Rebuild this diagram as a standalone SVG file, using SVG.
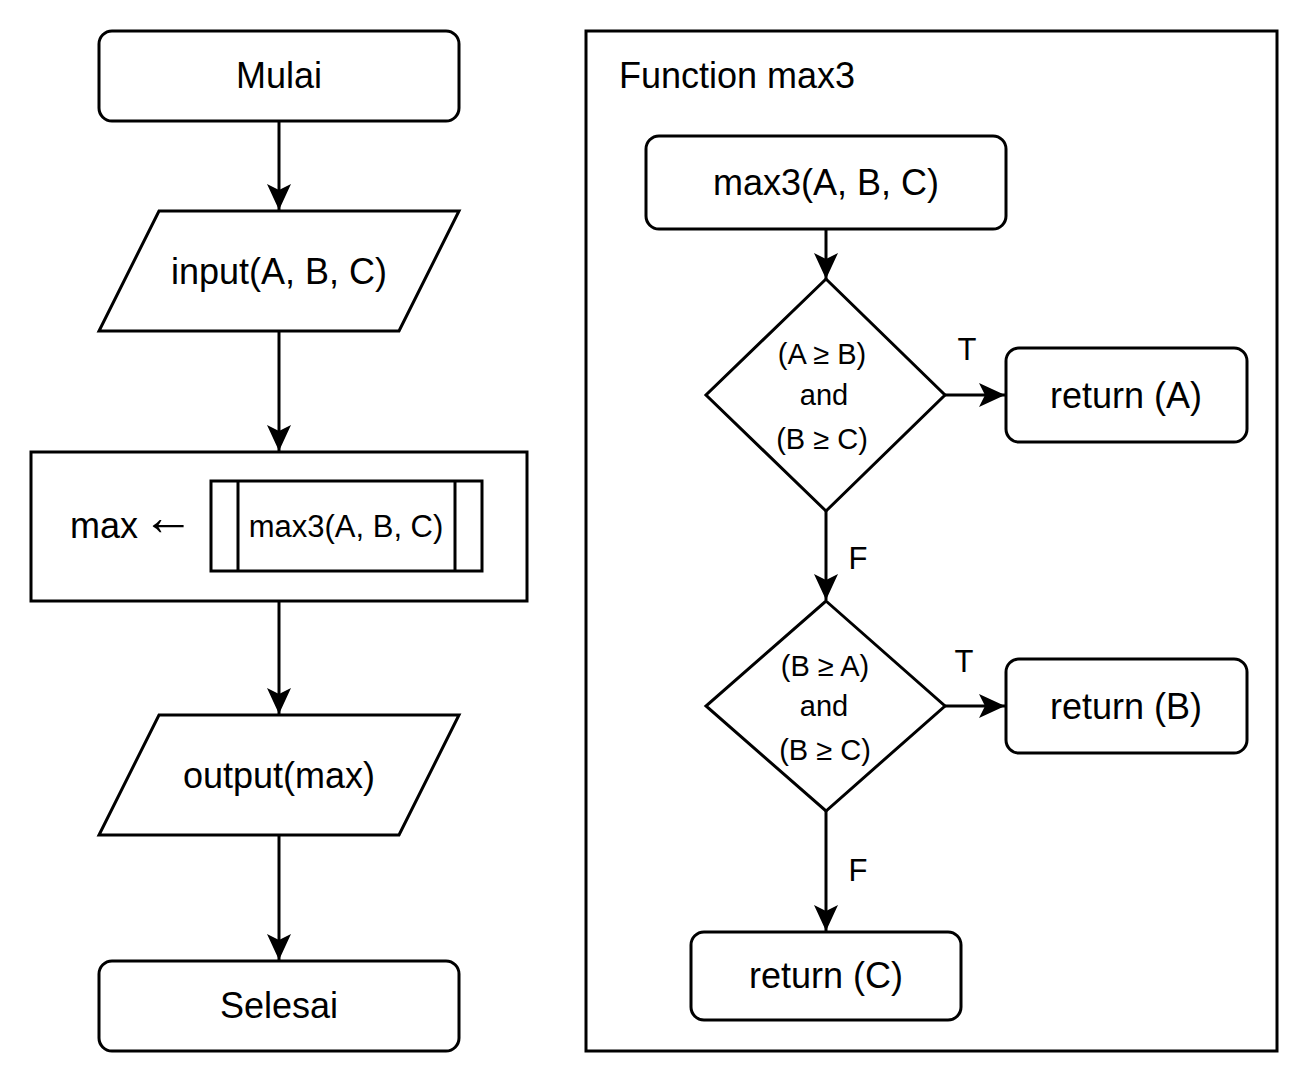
<svg xmlns="http://www.w3.org/2000/svg" width="1308" height="1083" viewBox="0 0 1308 1083">
<style>
.s{fill:#fff;stroke:#000;stroke-width:3}
.c{fill:none;stroke:#000;stroke-width:3}
.t{font-family:"Liberation Sans",Arial,sans-serif;fill:#000;text-anchor:middle}
.m{font-size:36px}
.d{font-size:29px}
.l{font-size:31px}
</style>
<defs>
<marker id="ah" markerUnits="userSpaceOnUse" markerWidth="32" markerHeight="32" viewBox="-28 -15 32 30" refX="0" refY="0" orient="auto">
<path d="M0,0 L-26,-12 L-20,0 L-26,12 Z" fill="#000"/>
</marker>
</defs>
<rect width="1308" height="1083" fill="#fff"/>
<g id="connectors">
<path class="c" d="M279,121 V210" marker-end="url(#ah)"/>
<path class="c" d="M279,331 V451" marker-end="url(#ah)"/>
<path class="c" d="M279,601 V714" marker-end="url(#ah)"/>
<path class="c" d="M279,835 V960" marker-end="url(#ah)"/>
<path class="c" d="M826,229 V279" marker-end="url(#ah)"/>
<path class="c" d="M945,395 H1005" marker-end="url(#ah)"/>
<path class="c" d="M826,511 V600" marker-end="url(#ah)"/>
<path class="c" d="M945,706 H1005" marker-end="url(#ah)"/>
<path class="c" d="M826,811 V931" marker-end="url(#ah)"/>
<text class="t l" x="967" y="360">T</text>
<text class="t l" x="858" y="569">F</text>
<text class="t l" x="964" y="672">T</text>
<text class="t l" x="858" y="881">F</text>
</g>
<g id="mulai">
<rect class="s" x="99" y="31" width="360" height="90" rx="13"/>
<text class="t m" x="279" y="88">Mulai</text>
</g>
<g id="input">
<path class="s" d="M159,211 H459 L399,331 H99 Z"/>
<text class="t m" x="279" y="284">input(A, B, C)</text>
</g>
<g id="assign">
<rect class="s" x="31" y="452" width="496" height="149"/>
<text class="t m" x="70" y="538" style="text-anchor:start">max<tspan x="142" y="535" style="font-size:52px">←</tspan></text>
<rect class="s" x="211" y="481" width="271" height="90"/>
<path class="c" d="M238,481 V571 M455,481 V571"/>
<text class="t l" x="346" y="537">max3(A, B, C)</text>
</g>
<g id="output">
<path class="s" d="M159,715 H459 L399,835 H99 Z"/>
<text class="t m" x="279" y="788">output(max)</text>
</g>
<g id="selesai">
<rect class="s" x="99" y="961" width="360" height="90" rx="13"/>
<text class="t m" x="279" y="1018">Selesai</text>
</g>
<g id="function-frame">
<rect class="c" x="586" y="31" width="691" height="1020"/>
<text class="t m" x="619" y="88" style="text-anchor:start">Function max3</text>
</g>
<g id="max3-start">
<rect class="s" x="646" y="136" width="360" height="93" rx="13"/>
<text class="t m" x="826" y="195">max3(A, B, C)</text>
</g>
<g id="cond1">
<path class="s" d="M826,279 L945,395 L826,511 L706,395 Z"/>
<text class="t d" x="822" y="364">(A ≥ B)</text>
<text class="t d" x="824" y="405">and</text>
<text class="t d" x="822" y="449">(B ≥ C)</text>
</g>
<g id="returnA">
<rect class="s" x="1006" y="348" width="241" height="94" rx="13"/>
<text class="t m" x="1126" y="408">return (A)</text>
</g>
<g id="cond2">
<path class="s" d="M826,601 L945,706 L826,811 L706,706 Z"/>
<text class="t d" x="825" y="676">(B ≥ A)</text>
<text class="t d" x="824" y="716">and</text>
<text class="t d" x="825" y="760">(B ≥ C)</text>
</g>
<g id="returnB">
<rect class="s" x="1006" y="659" width="241" height="94" rx="13"/>
<text class="t m" x="1126" y="719">return (B)</text>
</g>
<g id="returnC">
<rect class="s" x="691" y="932" width="270" height="88" rx="13"/>
<text class="t m" x="826" y="988">return (C)</text>
</g>
</svg>
